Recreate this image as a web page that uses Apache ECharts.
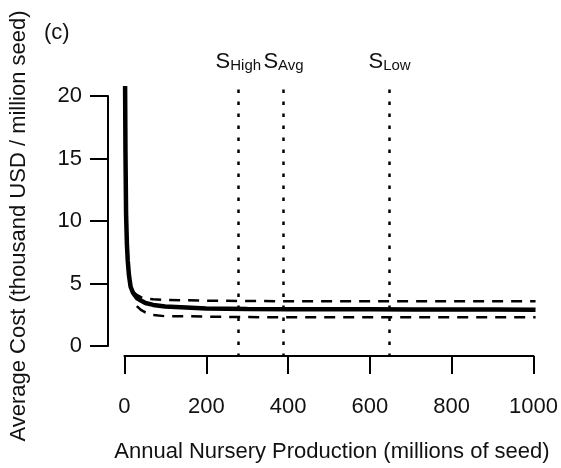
<!DOCTYPE html>
<html>
<head>
<meta charset="utf-8">
<script src="https://cdn.jsdelivr.net/npm/echarts@6/dist/echarts.min.js"></script>
<style>
  html, body { margin: 0; padding: 0; background: #fff; }
  #chart { width: 561px; height: 468px; }
</style>
</head>
<body>
<div id="chart"></div>
<script>
// Mean average cost curve (thousand USD / million seed) vs production (millions of seed)
const meanX = [1.6, 2.5, 4, 6, 8, 11, 15, 21, 30, 40, 51, 70, 99, 100, 150, 199, 200, 299, 300, 399, 400, 500, 600, 700, 800, 900, 1000];
const meanY = [20.8, 15.5, 10.6, 8.2, 6.9, 5.7, 4.8, 4.3, 3.9, 3.7, 3.5, 3.35, 3.22, 3.3, 3.14, 3.06, 3.1, 3.02, 3.06, 3.0, 3.03, 3.0, 3.0, 2.99, 2.98, 2.98, 2.97];

// Upper and lower bounds
const upperX = [21, 30, 40, 51, 70, 99, 100, 150, 199, 200, 300, 400, 500, 600, 700, 800, 900, 1000];
const upperY = [4.4, 4.15, 3.97, 3.88, 3.8, 3.75, 3.78, 3.72, 3.69, 3.67, 3.66, 3.65, 3.64, 3.64, 3.64, 3.64, 3.64, 3.64];
const lowerX = [30, 40, 51, 70, 99, 100, 150, 199, 200, 300, 400, 500, 600, 700, 800, 900, 1000];
const lowerY = [3.25, 2.95, 2.75, 2.55, 2.45, 2.5, 2.45, 2.42, 2.4, 2.38, 2.37, 2.37, 2.37, 2.37, 2.37, 2.37, 2.37];

// Reference production levels
const refNames = ['High', 'Avg', 'Low'];
const refValues = [277, 387, 645];

// Axis ticks
const xTicks = { min: 0, max: 1000, interval: 200 };
const yTicks = { min: 0, max: 20, interval: 5 };

const FONT = "'Liberation Sans', Arial, sans-serif";
const FS = 22;
const INK = '#111';

// Plot region, with 4% padding around the tick range on each side
const plot = { left: 108, top: 86, width: 444, height: 271 };
const xPad = (xTicks.max - xTicks.min) * 0.04;
const yPad = (yTicks.max - yTicks.min) * 0.04;
const xRange = [xTicks.min - xPad, xTicks.max + xPad];
const yRange = [yTicks.min - yPad, yTicks.max + yPad];
const pxX = plot.width / (xRange[1] - xRange[0]);
const pxY = plot.height / (yRange[1] - yRange[0]);
const axisGrid = {
  left: plot.left + xPad * pxX,
  width: (xTicks.max - xTicks.min) * pxX,
  top: plot.top + yPad * pxY,
  height: (yTicks.max - yTicks.min) * pxY
};

const pairs = (xs, ys) => xs.map((x, i) => [x, ys[i]]);
const text = (size) => ({ fontSize: size, fontFamily: FONT, color: INK });

const chart = echarts.init(document.getElementById('chart'), null, { renderer: 'canvas' });

chart.setOption({
  animation: false,
  backgroundColor: '#fff',
  textStyle: { fontFamily: FONT, color: INK },
  title: {
    text: '(c)', left: 39, top: 17,
    textStyle: Object.assign(text(FS), { fontWeight: 'normal' })
  },
  grid: [
    { left: plot.left, top: plot.top, width: plot.width, height: plot.height },
    { left: axisGrid.left, top: axisGrid.top, width: axisGrid.width, height: axisGrid.height }
  ],
  xAxis: [
    { type: 'value', gridIndex: 0, min: xRange[0], max: xRange[1], show: false },
    {
      type: 'value', gridIndex: 1, min: xTicks.min, max: xTicks.max, interval: xTicks.interval,
      position: 'bottom', offset: yPad * pxY,
      axisLine: { show: true, onZero: false, lineStyle: { color: '#000', width: 2 } },
      axisTick: { show: true, inside: false, length: 18, lineStyle: { color: '#000', width: 2 } },
      axisLabel: Object.assign(text(FS), { margin: 40, formatter: (v) => String(v) }),
      splitLine: { show: false },
      name: 'Annual Nursery Production (millions of seed)',
      nameLocation: 'middle', nameGap: 85,
      nameTextStyle: Object.assign(text(FS), { padding: [0, 0, 0, 6] })
    }
  ],
  yAxis: [
    { type: 'value', gridIndex: 0, min: yRange[0], max: yRange[1], show: false },
    {
      type: 'value', gridIndex: 1, min: yTicks.min, max: yTicks.max, interval: yTicks.interval,
      position: 'left', offset: xPad * pxX,
      axisLine: { show: true, onZero: false, lineStyle: { color: '#000', width: 2 } },
      axisTick: { show: true, inside: false, length: 18, lineStyle: { color: '#000', width: 2 } },
      axisLabel: Object.assign(text(FS), { margin: 26 }),
      splitLine: { show: false },
      name: 'Average Cost (thousand USD / million seed)',
      nameLocation: 'middle', nameGap: 78, nameRotate: 90,
      nameTextStyle: Object.assign(text(FS), { padding: [0, 10, 0, 0] })
    }
  ],
  series: [
    {
      name: 'upper', type: 'line', xAxisIndex: 0, yAxisIndex: 0,
      data: pairs(upperX, upperY), symbol: 'none', silent: true,
      lineStyle: { color: '#000', width: 2.5, type: [11, 8] }
    },
    {
      name: 'lower', type: 'line', xAxisIndex: 0, yAxisIndex: 0,
      data: pairs(lowerX, lowerY), symbol: 'none', silent: true,
      lineStyle: { color: '#000', width: 2.5, type: [11, 8] }
    },
    {
      name: 'mean', type: 'line', xAxisIndex: 0, yAxisIndex: 0,
      data: pairs(meanX, meanY), symbol: 'none', silent: true,
      lineStyle: { color: '#000', width: 4.5 },
      markLine: {
        silent: true,
        symbol: ['none', 'none'],
        lineStyle: { color: '#000', width: 2.5, type: [3.5, 8.5] },
        label: {
          show: true, position: 'end', distance: 13,
          rich: {
            s: Object.assign(text(FS), { lineHeight: 26, verticalAlign: 'bottom' }),
            sub: Object.assign(text(15), { lineHeight: 12, verticalAlign: 'bottom' })
          }
        },
        data: refValues.map((v, i) => ({
          xAxis: v,
          label: { formatter: '{s|S}{sub|' + refNames[i] + '}' }
        }))
      }
    }
  ]
});
</script>
</body>
</html>
